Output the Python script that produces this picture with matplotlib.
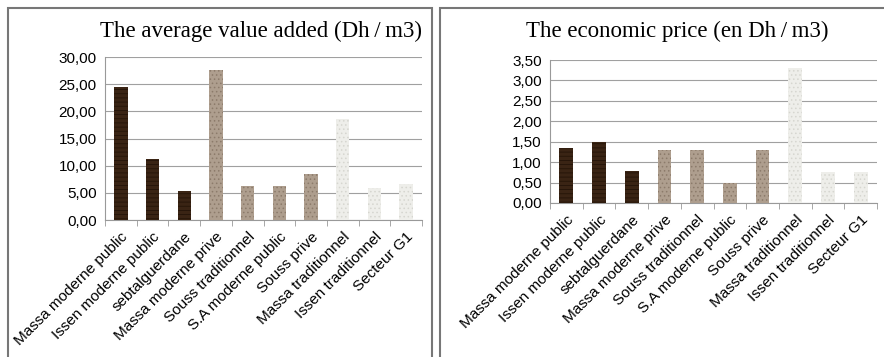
import matplotlib
matplotlib.use("Agg")
import matplotlib.pyplot as plt
from matplotlib.patches import Rectangle
from matplotlib.ticker import FuncFormatter, FixedLocator

categories = ["Massa moderne public", "Issen moderne public", "sebtalguerdane",
              "Massa moderne prive", "Souss traditionnel", "S.A moderne public",
              "Souss prive", "Massa traditionnel", "Issen traditionnel", "Secteur G1"]
value_added = [24.5, 11.2, 5.3, 27.6, 6.2, 6.2, 8.5, 18.5, 5.8, 6.6]
economic_price = [1.35, 1.50, 0.78, 1.30, 1.30, 0.50, 1.30, 3.30, 0.76, 0.76]
groups = [0, 0, 0, 1, 1, 1, 1, 2, 2, 2]
group_colors = ["#3a2414", "#ae9e8e", "#eeeeea"]
group_hatch_colors = ["#241408", "#8c7b6b", "#d6d6d0"]
group_hatches = ["----", "....", "...."]

plt.rcParams["hatch.linewidth"] = 0.6

W, H = 884, 357
fig = plt.figure(figsize=(W / 100, H / 100), dpi=100)
fig.patch.set_facecolor("white")

def fx(px):
    return px / W

def fy(py):
    return 1 - py / H

# panel borders
for x0, x1 in [(8, 432), (440, 890)]:
    fig.patches.append(Rectangle((fx(x0), fy(365)), fx(x1 - x0), (365 - 8) / H,
                                 transform=fig.transFigure, fill=False,
                                 edgecolor="#777777", linewidth=1.5))

def comma(v, pos):
    return f"{v:.2f}".replace(".", ",")

def draw(ax, vals, ymax, step, title, tx, ha):
    x = list(range(len(vals)))
    for i, v in enumerate(vals):
        g = groups[i]
        ax.bar(x[i], v, width=0.42, color=group_colors[g],
               edgecolor=group_hatch_colors[g], hatch=group_hatches[g],
               linewidth=0.0, zorder=3)
    ax.set_xlim(-0.5, len(vals) - 0.5)
    ax.set_ylim(0, ymax)
    ticks = [i * step for i in range(int(round(ymax / step)) + 1)]
    ax.yaxis.set_major_locator(FixedLocator(ticks))
    ax.yaxis.set_major_formatter(FuncFormatter(comma))
    ax.grid(axis="y", color="#a0a0a0", linewidth=0.8, zorder=0)
    ax.set_xticks(x)
    ax.set_xticklabels(categories, rotation=45, ha="right", rotation_mode="anchor",
                       fontsize=11, family="Liberation Sans")
    ax.set_xticks([i + 0.5 for i in range(-1, len(vals))], minor=True)
    ax.tick_params(axis="x", which="major", length=0, pad=7)
    ax.tick_params(axis="x", which="minor", length=4, color="#999999")
    ax.tick_params(axis="y", length=0, labelsize=11, pad=6)
    for lab in ax.get_yticklabels():
        lab.set_family("Liberation Sans")
    for s in ["top", "right"]:
        ax.spines[s].set_visible(False)
    ax.spines["left"].set_color("#999999")
    ax.spines["bottom"].set_color("#999999")
    fig.text(fx(tx), fy(31), title, ha=ha, va="center", fontsize=16.5,
             family="Liberation Serif")

ax1 = fig.add_axes([fx(105), fy(220), fx(422 - 105), (220 - 57) / H])
draw(ax1, value_added, 30, 5, "The average value added (Dh\u2009/\u2009m3)", 422, "right")

ax2 = fig.add_axes([fx(550), fy(203), fx(877 - 550), (203 - 60) / H])
draw(ax2, economic_price, 3.5, 0.5, "The economic price (en Dh\u2009/\u2009m3)", 677, "center")

fig.savefig("out.png", dpi=100, facecolor="white")
